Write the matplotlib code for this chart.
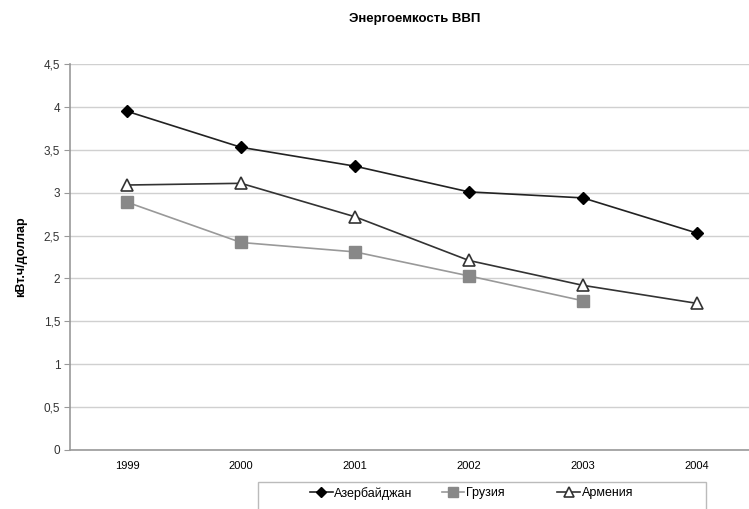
import matplotlib
matplotlib.use("Agg")
import matplotlib.pyplot as plt
from matplotlib.patches import Rectangle

plt.rcParams['font.family'] = ['Liberation Sans', 'DejaVu Sans']

years = ['1999', '2000', '2001', '2002', '2003', '2004']
azerbaijan = [3.95, 3.53, 3.31, 3.01, 2.94, 2.53]
georgia = [2.89, 2.42, 2.31, 2.03, 1.74]
armenia = [3.09, 3.11, 2.72, 2.21, 1.92, 1.71]
yticks = [0, 0.5, 1, 1.5, 2, 2.5, 3, 3.5, 4, 4.5]
ylabels = ['0', '0,5', '1', '1,5', '2', '2,5', '3', '3,5', '4', '4,5']

fig = plt.figure(figsize=(7.49, 5.09), dpi=100)
ax = fig.add_axes([0.0935, 0.116, 0.913, 0.758])

x = list(range(len(years)))
l1, = ax.plot(x, azerbaijan, color='#222222', lw=1.2, marker='D', ms=6.5,
              mfc='black', mec='black', label='Азербайджан', zorder=4)
l2, = ax.plot(x[:len(georgia)], georgia, color='#999999', lw=1.2, marker='s', ms=8.5,
              mfc='#888888', mec='#888888', label='Грузия', zorder=3)
l3, = ax.plot(x, armenia, color='#333333', lw=1.2, marker='^', ms=8.5,
              mfc='white', mec='#333333', mew=1.2, label='Армения', zorder=4)

ax.set_xlim(-0.5, 5.5)
ax.set_ylim(0, 4.5)
ax.set_xticks(x)
ax.set_xticklabels(years, fontsize=8)
ax.set_yticks(yticks)
ax.set_yticklabels(ylabels, fontsize=8.5, color='#333333')
ax.tick_params(axis='x', length=0, pad=8)
ax.tick_params(axis='y', length=4, color='#999999', pad=3)
ax.grid(axis='y', color='#d0d0d0', lw=1)
ax.set_axisbelow(True)
for s in ['top', 'right']:
    ax.spines[s].set_visible(False)
for s in ['left', 'bottom']:
    ax.spines[s].set_color('#999999')
    ax.spines[s].set_linewidth(1.2)

ax.set_ylabel('кВт.ч/доллар', fontsize=9, fontweight='bold', labelpad=12)
fig.text(0.553, 0.962, 'Энергоемкость ВВП', ha='center', va='center',
         fontsize=9.5, fontweight='bold')

fig.patches.append(Rectangle((0.344, -0.01), 0.598, 0.063, transform=fig.transFigure,
                             fill=False, edgecolor='#bbbbbb', lw=1))
# Excel-style legend: entries at fixed positions
for line, xpos in [(l1, 0.414), (l2, 0.590), (l3, 0.744)]:
    fig.legend([line], [line.get_label()], loc='center left',
               bbox_to_anchor=(xpos, 0.031), frameon=False, fontsize=9,
               handlelength=1.8, handletextpad=0.15, borderpad=0,
               borderaxespad=0, markerscale=0.85)

fig.savefig('out.png', dpi=100)
